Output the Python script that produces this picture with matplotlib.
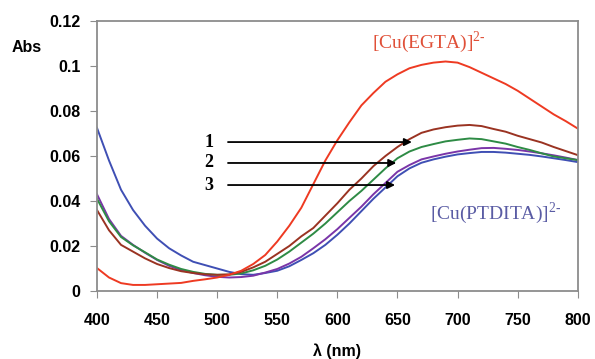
import matplotlib
matplotlib.use("Agg")
import matplotlib.pyplot as plt
import numpy as np

plt.rcParams["font.family"] = ["Liberation Sans", "DejaVu Sans"]
plt.rcParams["mathtext.fontset"] = "custom"
plt.rcParams["mathtext.rm"] = "Liberation Serif"

# wavelength grid (nm)
wavelength = list(range(400, 801, 10))

# absorbance
abs_egta = [0.0102, 0.006, 0.0035, 0.0027, 0.0027, 0.003, 0.0033, 0.0036, 0.0045, 0.0052,
            0.006, 0.0072, 0.009, 0.012, 0.016, 0.022, 0.029, 0.037, 0.0475, 0.058,
            0.067, 0.075, 0.0825, 0.088, 0.093, 0.0963, 0.099, 0.1005, 0.1015, 0.102,
            0.1015, 0.0995, 0.097, 0.0945, 0.092, 0.089, 0.0855, 0.082, 0.0785, 0.0755,
            0.0722]
abs_1 = [0.036, 0.027, 0.0205, 0.0175, 0.0145, 0.012, 0.0102, 0.0088, 0.008, 0.0074,
         0.0072, 0.0074, 0.0085, 0.0105, 0.013, 0.0165, 0.020, 0.0243, 0.028, 0.0335,
         0.039, 0.045, 0.050, 0.0555, 0.060, 0.064, 0.0675, 0.0703, 0.0718, 0.0728,
         0.0735, 0.0738, 0.0733, 0.072, 0.0708, 0.069, 0.0675, 0.066, 0.064, 0.0622,
         0.0604]
abs_2 = [0.041, 0.031, 0.024, 0.0203, 0.0172, 0.014, 0.0117, 0.0098, 0.0085, 0.0076,
         0.0072, 0.0072, 0.0078, 0.0092, 0.0112, 0.014, 0.0175, 0.0215, 0.0255, 0.030,
         0.035, 0.040, 0.0445, 0.0495, 0.0545, 0.059, 0.062, 0.064, 0.0653, 0.0665,
         0.0672, 0.0678, 0.0675, 0.0665, 0.0655, 0.064, 0.0627, 0.0612, 0.0598, 0.059,
         0.0582]
abs_3 = [0.043, 0.032, 0.0245, 0.0205, 0.017, 0.0138, 0.0112, 0.0093, 0.008, 0.007,
         0.0063, 0.006, 0.0062, 0.0068, 0.0082, 0.0098, 0.0122, 0.0152, 0.019, 0.023,
         0.0275, 0.0325, 0.0375, 0.043, 0.048, 0.053, 0.056, 0.0585, 0.0598, 0.061,
         0.062, 0.0628, 0.0635, 0.0636, 0.0632, 0.0627, 0.062, 0.0612, 0.0603, 0.0593,
         0.0582]
abs_ptdita = [0.0725, 0.058, 0.045, 0.036, 0.029, 0.0233, 0.019, 0.0158, 0.013, 0.0115,
              0.010, 0.0085, 0.0075, 0.0072, 0.008, 0.009, 0.011, 0.0138, 0.0168, 0.0205,
              0.025, 0.030, 0.0355, 0.041, 0.046, 0.051, 0.0545, 0.057, 0.0585, 0.0597,
              0.0607, 0.0613, 0.0618, 0.0618, 0.0615, 0.061, 0.0605, 0.0598, 0.059, 0.0582,
              0.0573]

series = [
    (abs_ptdita, "#3f4fb4"),
    (abs_3, "#7a35a8"),
    (abs_2, "#2e8b45"),
    (abs_1, "#9a3322"),
    (abs_egta, "#ee3a22"),
]

# arrows: label, y level, start x, end x
arrow_labels = ["1", "2", "3"]
arrow_y = [0.0662, 0.0569, 0.0471]
arrow_x0 = [509, 509, 509]
arrow_x1 = [662, 649, 648]

fig = plt.figure(figsize=(5.95, 3.59), dpi=100)
ax = fig.add_axes([0.163, 0.1894, 0.808, 0.7521])

for vals, col in series:
    ax.plot(wavelength, vals, color=col, lw=1.4)

ax.set_xlim(400, 800)
ax.set_ylim(0, 0.12)
ax.set_xticks(np.arange(400, 801, 50))
ax.set_yticks([0, 0.02, 0.04, 0.06, 0.08, 0.1, 0.12])
ax.set_yticklabels(["0", "0.02", "0.04", "0.06", "0.08", "0.1", "0.12"])
for lab in ax.get_xticklabels() + ax.get_yticklabels():
    lab.set_fontweight("bold")
    lab.set_fontsize(11.5)
ax.tick_params(axis="x", direction="out", length=5, color="#8c8c8c", pad=11)
ax.tick_params(axis="y", direction="out", length=5, color="#8c8c8c", pad=7)
for sp in ax.spines.values():
    sp.set_color("#8c8c8c")
    sp.set_linewidth(1.3)

for lab, y, x0, x1 in zip(arrow_labels, arrow_y, arrow_x0, arrow_x1):
    ax.annotate("", xy=(x1, y), xytext=(x0, y),
                arrowprops=dict(arrowstyle="-|>", color="black", lw=1.3,
                                mutation_scale=11, shrinkA=0, shrinkB=0))
    ax.text(493, y, lab, family="Liberation Serif", fontweight="bold",
            fontsize=13, ha="center", va="center")

ax.text(676, 0.1107, r"[Cu(EGTA)]$^{2\text{-}}$", family="Liberation Serif",
        fontsize=14, color="#e05038", ha="center", va="center")
ax.text(677, 0.0347, r"[Cu(PTDITA)]$^{2\text{-}}$", family="Liberation Serif",
        fontsize=14, color="#5a5ca4", ha="left", va="center")

fig.text(27 / 595, 1 - 47 / 359, "Abs", fontweight="bold", fontsize=11.5,
         ha="center", va="center")
fig.text(337 / 595, 1 - 351 / 359, "\u03bb (nm)", fontweight="bold", fontsize=11.5,
         ha="center", va="center")

fig.savefig("out.png", dpi=100)
